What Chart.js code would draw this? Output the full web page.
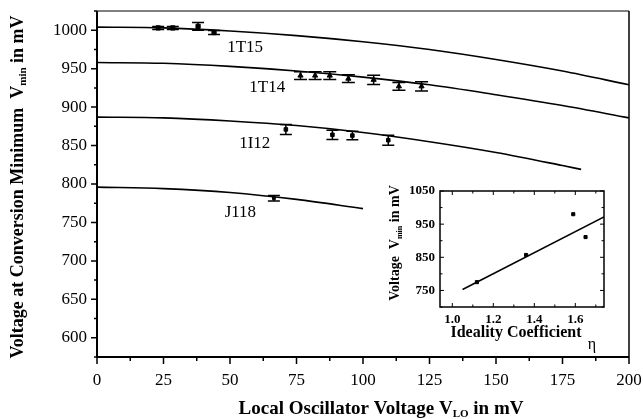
<!DOCTYPE html>
<html>
<head>
<meta charset="utf-8">
<script src="https://cdn.jsdelivr.net/npm/chart.js@4/dist/chart.umd.min.js"></script>
<style>
  html, body { margin: 0; padding: 0; background: #fff; }
  #wrap { position: relative; width: 643px; height: 419px; }
  #main { position: absolute; left: 0; top: 0; }
  #inset { position: absolute; left: 378px; top: 168px; }
</style>
</head>
<body>
<div id="wrap">
  <canvas id="main" width="643" height="419"></canvas>
  <canvas id="inset" width="250" height="190"></canvas>
</div>
<script>
// ---- main panel: conversion-minimum voltage vs LO voltage ----
const loGrid   = [0, 25, 50, 75, 100, 125, 150, 175, 200];
const loGridI12 = [0, 25, 50, 75, 100, 125, 150, 175, 182];
const loGridJ118 = [0, 25, 50, 75, 100];

const fit1T15 = [1004, 1003, 999, 993, 985, 975, 962, 947, 929];
const fit1T14 = [958, 957, 953, 947, 939, 929, 916, 902, 886];
const fit1I12 = [887, 886, 882, 876, 867, 855, 841, 824, 819];
const fitJ118 = [796, 794, 789, 780, 768];

const lo1T15   = [23, 28.5, 38, 44];
const vmin1T15 = [1003, 1003, 1005, 997];
const err1T15  = [2, 2, 5, 2.5];

const lo1T14   = [76.5, 82, 87.5, 94.5, 104, 113.5, 122];
const vmin1T14 = [941, 941, 941, 937, 935.5, 927, 927];
const err1T14  = [5, 5, 5, 5, 6, 5, 6];

const lo1I12   = [71, 88.5, 96, 109.5];
const vmin1I12 = [871, 864, 863, 857];
const err1I12  = [6.5, 6, 5.5, 6.5];

const loJ118   = [66.5];
const vminJ118 = [781.5];
const errJ118  = [3.5];

const curveNames = ['1T15', '1T14', '1I12', 'J118'];
const nameX = [55.7, 64, 59.3, 53.9];
const nameY = [978, 925, 853, 763.5];

const xTicks = [0, 25, 50, 75, 100, 125, 150, 175, 200];
const yTicks = [600, 650, 700, 750, 800, 850, 900, 950, 1000];

// ---- inset: conversion-minimum voltage vs ideality coefficient ----
const eta      = [1.12, 1.36, 1.59, 1.65];
const etaVmin  = [775, 857, 980, 911];
const etaFitX  = [1.05, 1.74];
const etaFitY  = [753, 972];
const insetXTicks = [1.0, 1.2, 1.4, 1.6];
const insetYTicks = [750, 850, 950, 1050];

const SERIF = '"Liberation Serif", "Times New Roman", serif';

function pts(xs, ys) { return xs.map((x, i) => ({ x: x, y: ys[i] })); }

// keep the plot box exactly where the layout puts it (no extra label padding)
function noPad(s) { s.paddingTop = 0; s.paddingBottom = 0; s.paddingLeft = 0; s.paddingRight = 0; }

function drawRich(ctx, parts, cx, cy, rot) {
  ctx.save();
  ctx.translate(cx, cy);
  ctx.rotate(rot || 0);
  ctx.fillStyle = '#000';
  ctx.textBaseline = 'alphabetic';
  let w = 0;
  parts.forEach(p => { ctx.font = p.font; w += ctx.measureText(p.text).width; });
  let x = -w / 2;
  parts.forEach(p => {
    ctx.font = p.font;
    ctx.fillText(p.text, x, 6 + (p.dy || 0));
    x += ctx.measureText(p.text).width;
  });
  ctx.restore();
}

const errorBars = {
  id: 'errorBars',
  afterDatasetsDraw(chart) {
    const { ctx, scales: { x, y } } = chart;
    chart.data.datasets.forEach(ds => {
      if (!ds.errors) return;
      ctx.save();
      ctx.strokeStyle = '#000';
      ctx.lineWidth = 1.5;
      ds.data.forEach((p, i) => {
        const e = ds.errors[i];
        const px = x.getPixelForValue(p.x);
        const top = y.getPixelForValue(p.y + e);
        const bot = y.getPixelForValue(p.y - e);
        const w = ds.capHalf;
        ctx.beginPath();
        ctx.moveTo(px, top); ctx.lineTo(px, bot);
        ctx.moveTo(px - w, top); ctx.lineTo(px + w, top);
        ctx.moveTo(px - w, bot); ctx.lineTo(px + w, bot);
        ctx.stroke();
      });
      ctx.restore();
    });
  }
};

const mainFrame = {
  id: 'mainFrame',
  afterDraw(chart) {
    const { ctx, chartArea: a, scales: { x, y } } = chart;
    ctx.save();
    ctx.strokeStyle = '#000';
    // box
    ctx.lineWidth = 1;
    ctx.beginPath();
    ctx.moveTo(a.left, a.top); ctx.lineTo(a.right, a.top);
    ctx.stroke();
    ctx.lineWidth = 1.5;
    ctx.beginPath();
    ctx.moveTo(a.right, a.top); ctx.lineTo(a.right, a.bottom);
    ctx.stroke();
    ctx.lineWidth = 2;
    ctx.beginPath();
    ctx.moveTo(a.left, a.top); ctx.lineTo(a.left, a.bottom); ctx.lineTo(a.right, a.bottom);
    ctx.stroke();
    // ticks
    ctx.lineWidth = 1.5;
    ctx.beginPath();
    for (let v = 0; v <= 200; v += 12.5) {
      const px = x.getPixelForValue(v);
      const len = v % 25 === 0 ? 7 : 4;
      ctx.moveTo(px, a.bottom); ctx.lineTo(px, a.bottom + len);
    }
    for (let v = 575; v <= 1025; v += 25) {
      const py = y.getPixelForValue(v);
      const len = v % 50 === 0 ? 6 : 3;
      ctx.moveTo(a.left, py); ctx.lineTo(a.left - len, py);
    }
    ctx.stroke();
    // curve names
    ctx.font = '17px ' + SERIF;
    ctx.fillStyle = '#000';
    ctx.textAlign = 'center';
    ctx.textBaseline = 'middle';
    curveNames.forEach((n, i) => {
      ctx.fillText(n, x.getPixelForValue(nameX[i]), y.getPixelForValue(nameY[i]));
    });
    ctx.restore();
    // axis titles
    const sub = 'bold 11px ' + SERIF;
    drawRich(ctx, [
      { text: 'Local Oscillator Voltage V', font: 'bold 19px ' + SERIF },
      { text: 'LO', font: sub, dy: 3 },
      { text: ' in mV', font: 'bold 19px ' + SERIF }
    ], 381, 408, 0);
    drawRich(ctx, [
      { text: 'Voltage at Conversion Minimum  V', font: 'bold 18px ' + SERIF },
      { text: 'min', font: sub, dy: 3 },
      { text: ' in mV', font: 'bold 18px ' + SERIF }
    ], 17, 187, -Math.PI / 2);
  }
};

function curve(xs, ys) {
  return {
    data: pts(xs, ys), showLine: true, pointRadius: 0, borderColor: '#000',
    borderWidth: 1.6, cubicInterpolationMode: 'monotone', fill: false
  };
}
function meas(xs, ys, errs, style, r, cap) {
  return {
    data: pts(xs, ys), showLine: false, pointStyle: style, pointRadius: r,
    backgroundColor: '#000', borderColor: '#000', borderWidth: 1,
    errors: errs, capHalf: cap
  };
}

new Chart(document.getElementById('main'), {
  type: 'scatter',
  data: {
    datasets: [
      curve(loGrid, fit1T15),
      curve(loGrid, fit1T14),
      curve(loGridI12, fit1I12),
      curve(loGridJ118, fitJ118),
      meas(lo1T15, vmin1T15, err1T15, 'rect', 3, 6),
      meas(lo1T14, vmin1T14, err1T14, 'triangle', 3, 6.5),
      meas(lo1I12, vmin1I12, err1I12, 'rect', 2.5, 6),
      meas(loJ118, vminJ118, errJ118, 'rect', 2, 6)
    ]
  },
  options: {
    responsive: false, animation: false, devicePixelRatio: 1,
    layout: { padding: { top: 11, right: 14, left: 0, bottom: 0 } },
    plugins: { legend: { display: false }, tooltip: { enabled: false } },
    scales: {
      x: {
        type: 'linear', min: 0, max: 200,
        afterBuildTicks: s => { s.ticks = xTicks.map(v => ({ value: v })); },
        afterFit: s => { s.height = 62; noPad(s); },
        grid: { display: false, drawTicks: false }, border: { display: false },
        ticks: {
          padding: 13, color: '#000', font: { family: SERIF, size: 17 },
          maxRotation: 0, autoSkip: false, callback: v => String(v)
        }
      },
      y: {
        type: 'linear', min: 575, max: 1025,
        afterBuildTicks: s => { s.ticks = yTicks.map(v => ({ value: v })); },
        afterFit: s => { s.width = 97; noPad(s); },
        grid: { display: false, drawTicks: false }, border: { display: false },
        ticks: {
          padding: 10, color: '#000', font: { family: SERIF, size: 17 },
          autoSkip: false, callback: v => String(v)
        }
      }
    }
  },
  plugins: [errorBars, mainFrame]
});

const insetFrame = {
  id: 'insetFrame',
  afterDraw(chart) {
    const { ctx, chartArea: a, scales: { x, y } } = chart;
    ctx.save();
    ctx.strokeStyle = '#000';
    ctx.lineWidth = 1.5;
    ctx.strokeRect(a.left, a.top, a.right - a.left, a.bottom - a.top);
    ctx.lineWidth = 1;
    ctx.beginPath();
    for (let v = 1.0; v <= 1.701; v += 0.1) {
      const px = x.getPixelForValue(v);
      const len = Math.abs((v * 10) % 2) < 0.01 ? 4 : 2.5;
      ctx.moveTo(px, a.bottom); ctx.lineTo(px, a.bottom - len);
      ctx.moveTo(px, a.top); ctx.lineTo(px, a.top + len);
    }
    for (let v = 700; v <= 1050; v += 50) {
      const py = y.getPixelForValue(v);
      const len = v % 100 === 50 ? 4 : 2.5;
      ctx.moveTo(a.left, py); ctx.lineTo(a.left + len, py);
      ctx.moveTo(a.right, py); ctx.lineTo(a.right - len, py);
    }
    ctx.stroke();
    ctx.restore();
    drawRich(ctx, [{ text: 'Ideality Coefficient', font: 'bold 16px ' + SERIF }], 138, 163, 0);
    drawRich(ctx, [{ text: 'η', font: '16px ' + SERIF }], 214, 175, 0);
    drawRich(ctx, [
      { text: 'Voltage  V', font: 'bold 14px ' + SERIF },
      { text: 'min', font: 'bold 8px ' + SERIF, dy: 3 },
      { text: ' in mV', font: 'bold 14px ' + SERIF }
    ], 15, 75, -Math.PI / 2);
  }
};

new Chart(document.getElementById('inset'), {
  type: 'scatter',
  data: {
    datasets: [
      {
        data: pts(etaFitX, etaFitY), showLine: true, pointRadius: 0,
        borderColor: '#000', borderWidth: 1.6, fill: false
      },
      {
        data: pts(eta, etaVmin), showLine: false, pointStyle: 'rect', pointRadius: 2.2,
        backgroundColor: '#000', borderColor: '#000'
      }
    ]
  },
  options: {
    responsive: false, animation: false, devicePixelRatio: 1,
    layout: { padding: { top: 23, right: 24, left: 0, bottom: 0 } },
    plugins: { legend: { display: false }, tooltip: { enabled: false } },
    scales: {
      x: {
        type: 'linear', min: 0.94, max: 1.74,
        afterBuildTicks: s => { s.ticks = insetXTicks.map(v => ({ value: v })); },
        afterFit: s => { s.height = 51; noPad(s); },
        grid: { display: false, drawTicks: false }, border: { display: false },
        ticks: {
          padding: 5, color: '#000', font: { family: SERIF, size: 13, weight: 'bold' },
          maxRotation: 0, autoSkip: false, callback: v => v.toFixed(1)
        }
      },
      y: {
        type: 'linear', min: 700, max: 1050,
        afterBuildTicks: s => { s.ticks = insetYTicks.map(v => ({ value: v })); },
        afterFit: s => { s.width = 62; noPad(s); },
        grid: { display: false, drawTicks: false }, border: { display: false },
        ticks: {
          padding: 5, color: '#000', font: { family: SERIF, size: 13, weight: 'bold' },
          autoSkip: false, callback: v => String(v)
        }
      }
    }
  },
  plugins: [insetFrame]
});
</script>
</body>
</html>
